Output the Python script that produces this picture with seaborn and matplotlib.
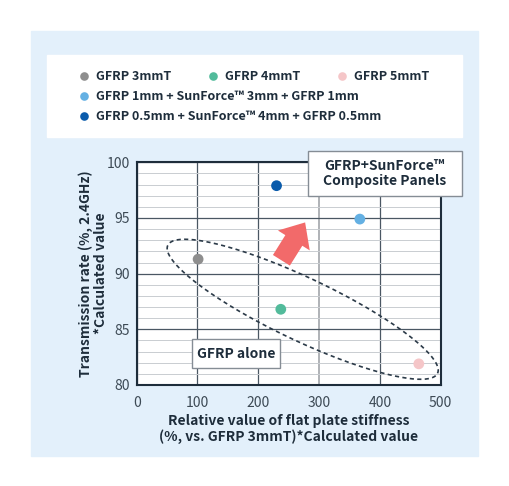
import matplotlib
matplotlib.use("Agg")
import matplotlib.pyplot as plt
import numpy as np
import pandas as pd
import seaborn as sns
from matplotlib.patches import Rectangle
from matplotlib.ticker import MultipleLocator

############# data
materials = ["GFRP 3mmT", "GFRP 4mmT", "GFRP 5mmT",
             "GFRP 1mm + SunForce\u2122 3mm + GFRP 1mm",
             "GFRP 0.5mm + SunForce\u2122 4mm + GFRP 0.5mm"]
stiffness = [101, 237, 464, 367, 230]
transmission = [91.3, 86.8, 81.9, 94.9, 97.9]
colors = ["#8e8e8e", "#52bb9b", "#f5c6c8", "#64b0e3", "#0a5bab"]
x_ticks = [0, 100, 200, 300, 400, 500]
y_ticks = [80, 85, 90, 95, 100]

df = pd.DataFrame({"material": materials, "stiffness": stiffness,
                   "transmission": transmission})

plt.rcParams['font.family'] = ['Noto Sans CJK JP', 'DejaVu Sans']
navy = "#1e2d3b"
W, H = 510, 486


def fx(px):
    return px / W


def fy(py):
    return 1 - py / H


fig = plt.figure(figsize=(W / 100, H / 100), dpi=100)
fig.patch.set_facecolor("white")

# light blue panel + white legend card
fig.add_artist(Rectangle((fx(31), fy(456)), fx(478) - fx(31), fy(31) - fy(456),
                         transform=fig.transFigure, color="#e3f0fb", zorder=-2))
fig.add_artist(Rectangle((fx(47), fy(137)), fx(462) - fx(47), fy(55) - fy(137),
                         transform=fig.transFigure, color="white", zorder=-1))

ax = fig.add_axes([fx(136.7), fy(385), fx(440.7) - fx(136.7), fy(162.3) - fy(385)])
ax.set_facecolor("white")

sns.scatterplot(data=df, x="stiffness", y="transmission", hue="material",
                hue_order=materials, palette=dict(zip(materials, colors)),
                s=60, linewidth=0, ax=ax, zorder=4)

ax.set_xlim(0, 500)
ax.set_ylim(80, 100)
ax.set_xticks(x_ticks)
ax.set_yticks(y_ticks)
ax.yaxis.set_minor_locator(MultipleLocator(1))
ax.tick_params(which="both", length=0)
ax.tick_params(axis="x", pad=8, labelsize=10, labelcolor="#3d4a55")
ax.tick_params(axis="y", pad=5, labelsize=10, labelcolor="#3d4a55")
ax.grid(which="minor", axis="y", color="#c9cdd1", lw=0.7)
ax.grid(which="major", color="#4a5763", lw=0.9)
ax.get_xgridlines()[3].set_color("#a9adb1")
ax.get_xgridlines()[3].set_linewidth(1.3)
ax.set_axisbelow(True)
for sp in ax.spines.values():
    sp.set_color(navy)
    sp.set_linewidth(1.5)

ax.set_xlabel("Relative value of flat plate stiffness\n(%, vs. GFRP 3mmT)*Calculated value",
              fontsize=10, fontweight="bold", color=navy, linespacing=1.1)
ax.set_ylabel("Transmission rate (%, 2.4GHz)\n*Calculated value",
              fontsize=10, fontweight="bold", color=navy, linespacing=1.1)
ax.xaxis.set_label_coords(0.5, -0.13)
ax.yaxis.set_label_coords(-0.095, 0.5)

############ dashed ellipse round the GFRP-only points (sizes in pixels)
cx, cy = ax.transData.transform((273, 86.8))
a, b, th = 149.3, 31.3, np.deg2rad(-25.4)
t = np.linspace(0, 2 * np.pi, 300)
ex = cx + a * np.cos(t) * np.cos(th) - b * np.sin(t) * np.sin(th)
ey = cy + a * np.cos(t) * np.sin(th) + b * np.sin(t) * np.cos(th)
ell = ax.transData.inverted().transform(np.column_stack([ex, ey]))
ax.plot(ell[:, 0], ell[:, 1], color="#2b3a48", lw=1.2, ls=(0, (2.5, 2)),
        zorder=3, clip_on=False)

############ arrow
ax.annotate("", xy=(277, 94.6), xytext=(238, 91.2),
            arrowprops=dict(arrowstyle="simple,head_length=0.85,head_width=1.5,tail_width=0.8",
                            mutation_scale=18, color="#f26a6a", lw=0,
                            shrinkA=0, shrinkB=0), zorder=3)

############ boxes
def label_box(x0, y0, x1, y1, text):
    fig.add_artist(Rectangle((fx(x0), fy(y1)), fx(x1) - fx(x0), fy(y0) - fy(y1),
                             transform=fig.transFigure, facecolor="white",
                             edgecolor="#858d95", lw=1.0, zorder=5))
    fig.text(fx((x0 + x1) / 2), fy((y0 + y1) / 2), text, ha="center", va="center",
             fontsize=10, fontweight="bold", color=navy, zorder=6, linespacing=1.15)


label_box(307.7, 150.7, 461.7, 196, "GFRP+SunForce\u2122\nComposite Panels")
label_box(191.7, 339, 280, 368, "GFRP alone")

############ legend
h, l = ax.get_legend_handles_labels()
ax.get_legend().remove()
common = dict(frameon=False, loc="upper left", borderpad=0, borderaxespad=0,
              handlelength=0.7, handletextpad=0.6, markerscale=0.8,
              prop={"weight": "bold", "size": 9}, labelcolor=navy)
fig.legend(h[:3], l[:3], ncol=3, columnspacing=3.0,
           bbox_to_anchor=(fx(79.6), fy(70)), **common)
fig.legend(h[3:], l[3:], ncol=1, labelspacing=0.55,
           bbox_to_anchor=(fx(79.6), fy(90.5)), **common)

plt.savefig("out.png", dpi=100)
